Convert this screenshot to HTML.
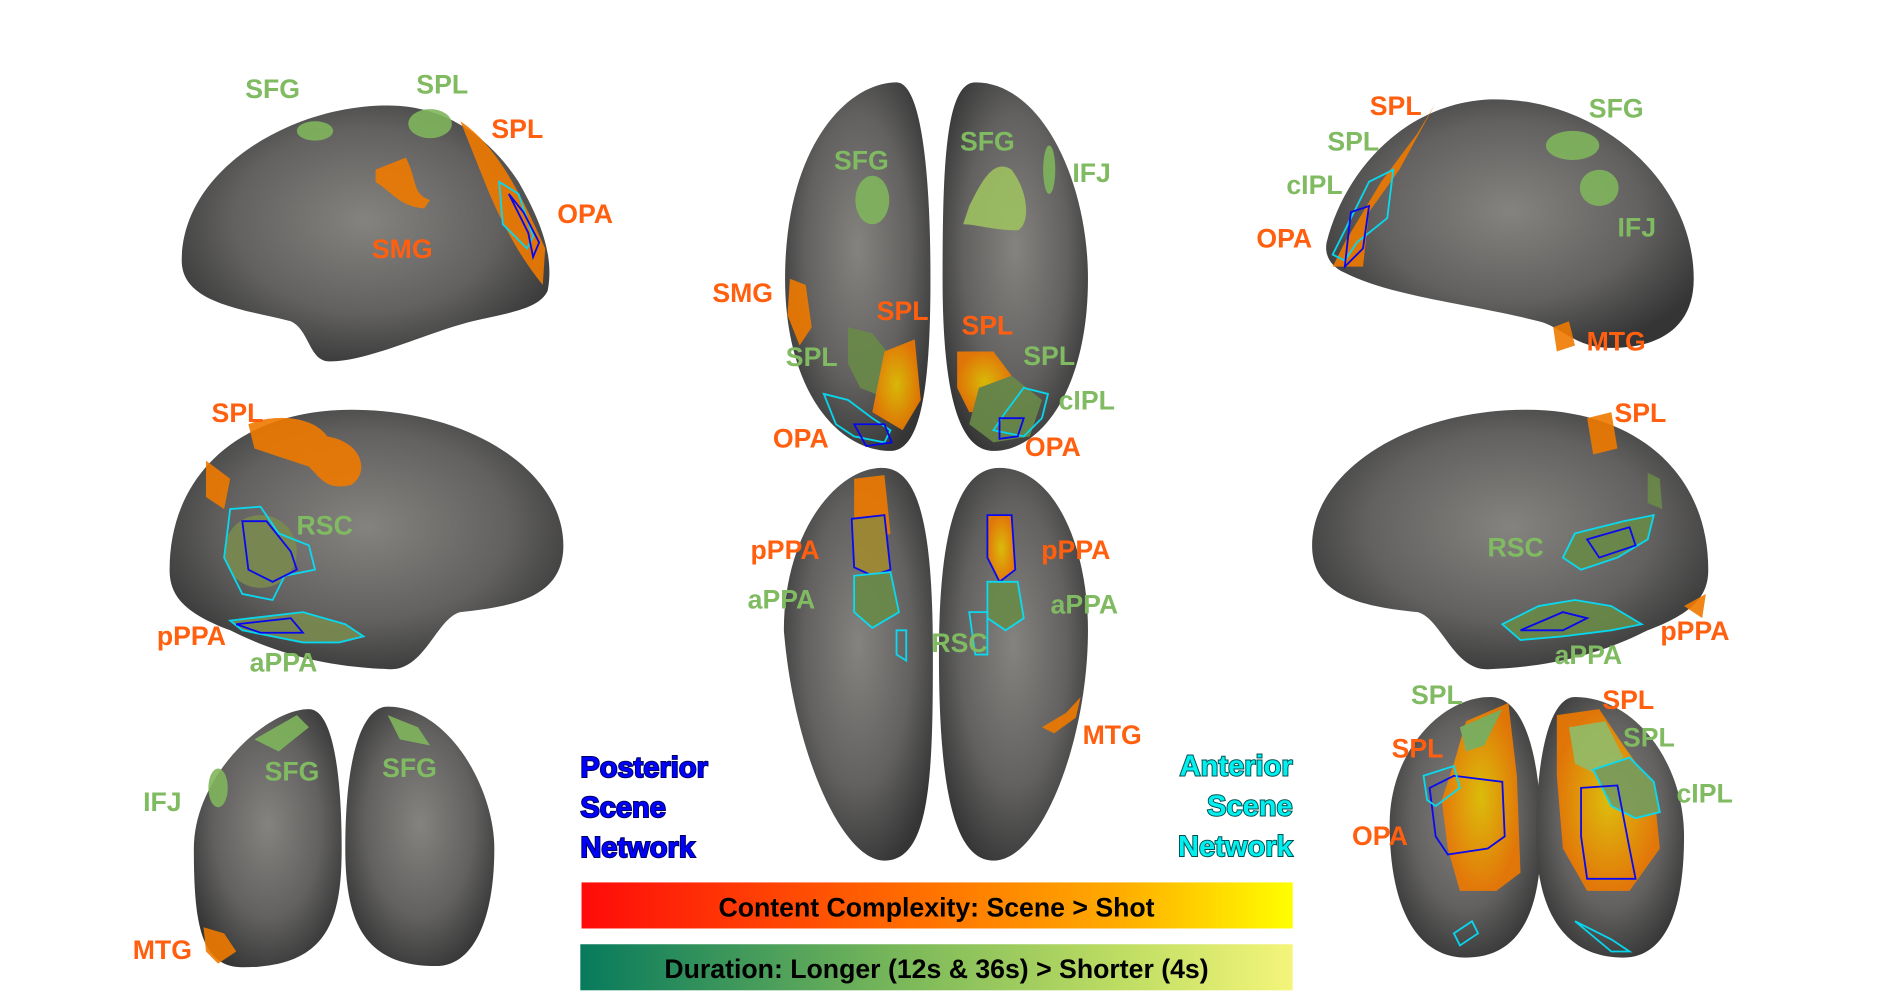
<!DOCTYPE html>
<html><head><meta charset="utf-8"><style>
html,body{margin:0;padding:0;background:#fff;}
svg{display:block;}
text{font-family:"Liberation Sans",sans-serif;font-weight:bold;}
.o{fill:#ff5f0f;}
.g{fill:#80bb62;}
.l{font-size:22px;text-anchor:middle;}
</style></head><body>
<svg width="1890" height="1000" viewBox="0 0 1560 825" preserveAspectRatio="none" xmlns="http://www.w3.org/2000/svg">
<defs>
<radialGradient id="br" cx="50%" cy="45%" r="60%">
<stop offset="0" stop-color="#85837f"/><stop offset="0.6" stop-color="#626160"/><stop offset="1" stop-color="#353535"/>
</radialGradient>
<linearGradient id="b1" x1="0" x2="1"><stop offset="0" stop-color="#ff0a0a"/><stop offset="0.45" stop-color="#ff6a00"/><stop offset="0.75" stop-color="#ffaa00"/><stop offset="1" stop-color="#ffff00"/></linearGradient>
<linearGradient id="b2" x1="0" x2="1"><stop offset="0" stop-color="#077a5c"/><stop offset="0.45" stop-color="#7ab85a"/><stop offset="0.75" stop-color="#bcdc62"/><stop offset="1" stop-color="#f4f57a"/></linearGradient>
<radialGradient id="ob" cx="50%" cy="50%" r="50%"><stop offset="0" stop-color="#e6c400"/><stop offset="1" stop-color="#f07a00"/></radialGradient>
</defs>

<!-- Brains -->
<g fill="url(#br)">
<path d="M150,215 C150,140 240,87 320,87 C370,87 405,115 428,150 C445,180 458,210 452,240 C445,255 420,258 390,265 C350,275 300,300 270,298 C255,296 255,272 240,265 C200,255 150,250 150,215 Z"/>
<path d="M140,470 C140,390 200,338 290,338 C390,338 465,390 465,450 C465,490 430,500 380,505 C360,510 350,555 320,552 C270,550 230,540 190,520 C150,505 140,490 140,470 Z"/>
<path d="M160,700 C160,640 220,585 255,585 C275,585 282,640 282,700 C282,760 270,798 200,798 C165,798 160,760 160,700Z"/>
<path d="M285,700 C285,620 300,583 320,583 C370,583 408,650 408,700 C408,760 390,797 360,797 C300,797 285,760 285,700Z"/>
<path d="M648,230 C648,120 700,68 740,68 C760,68 768,140 768,230 C768,320 760,372 735,372 C690,372 648,320 648,230Z"/>
<path d="M778,230 C778,140 780,68 805,68 C860,68 898,150 898,230 C898,320 860,372 820,372 C790,372 778,320 778,230Z"/>
<path d="M647,520 C647,440 690,386 728,386 C760,386 770,440 770,540 C770,640 768,710 730,710 C695,710 655,620 647,520Z"/>
<path d="M775,540 C775,440 790,386 825,386 C870,386 898,450 898,520 C898,610 860,710 820,710 C785,710 775,640 775,540Z"/>
<path d="M1095,200 C1110,140 1160,85 1230,82 C1320,80 1398,150 1398,230 C1398,270 1370,287 1330,287 C1300,287 1290,270 1270,265 C1210,250 1150,245 1110,225 C1098,220 1093,210 1095,200Z"/>
<path d="M1410,470 C1410,390 1350,338 1260,338 C1160,338 1083,390 1083,450 C1083,490 1120,500 1170,505 C1190,510 1200,555 1230,552 C1280,550 1320,540 1360,520 C1400,505 1410,490 1410,470Z"/>
<path d="M1147,680 C1147,620 1190,575 1230,575 C1260,575 1272,630 1272,690 C1272,760 1250,790 1210,790 C1170,790 1147,750 1147,680Z"/>
<path d="M1268,690 C1268,620 1280,575 1300,575 C1350,575 1390,630 1390,690 C1390,760 1370,790 1340,790 C1290,790 1268,750 1268,690Z"/>
</g>

<!-- Blobs -->
<g opacity="0.9">
<!-- top-left -->
<ellipse cx="260" cy="108" rx="15" ry="8" fill="#7fb55c"/>
<ellipse cx="355" cy="102" rx="18" ry="12" fill="#7fb55c"/>
<path d="M380,100 C410,120 430,160 450,205 L448,235 C440,225 420,200 400,150 Z" fill="#f07a00"/>
<path d="M310,140 L335,130 C345,150 340,160 355,165 L350,172 C330,170 325,160 310,150Z" fill="#f07a00"/>
<path d="M412,150 L428,160 L440,195 L435,205 L415,185 Z" fill="none" stroke="#00e5ff" stroke-width="1.5"/>
<path d="M420,160 L432,175 L445,200 L440,212 L436,192 Z" fill="none" stroke="#0000ff" stroke-width="1.5"/>
<!-- mid-left -->
<path d="M205,350 C230,340 260,345 270,360 C300,365 305,390 290,400 C270,405 265,395 255,385 C240,380 225,375 210,370Z" fill="#f07a00"/>
<path d="M170,380 L190,395 L185,420 L170,410Z" fill="#f07a00"/>
<ellipse cx="215" cy="455" rx="30" ry="30" fill="#7a8a50"/>
<path d="M190,420 L215,418 L230,440 L255,450 L260,470 L235,475 L225,495 L200,490 L185,460Z" fill="none" stroke="#00e5ff" stroke-width="1.5"/>
<path d="M200,430 L220,430 L240,455 L245,470 L225,480 L205,470Z" fill="none" stroke="#0000ff" stroke-width="1.5"/>
<path d="M190,512 L250,505 L285,515 L300,525 L280,530 L250,530 L200,520Z" fill="#7a8a50" stroke="#00e5ff" stroke-width="1.5"/>
<path d="M195,515 L240,510 L250,522 L215,522Z" fill="none" stroke="#0000ff" stroke-width="1.5"/>
<!-- bottom-left -->
<path d="M210,610 L245,590 L255,600 L230,620 Z" fill="#7fb55c"/>
<path d="M320,590 L345,600 L355,615 L330,610Z" fill="#7fb55c"/>
<ellipse cx="180" cy="650" rx="8" ry="16" fill="#7fb55c"/>
<path d="M168,765 L185,770 L195,785 L180,795 L170,785Z" fill="#f07a00"/>
<!-- center top -->
<ellipse cx="720" cy="165" rx="14" ry="20" fill="#7fb55c"/>
<path d="M800,170 C810,150 820,130 835,140 C850,160 850,185 840,190 C820,190 805,185 795,185Z" fill="#9dc060"/>
<ellipse cx="866" cy="140" rx="5" ry="20" fill="#7fb55c"/>
<path d="M652,230 L665,235 L670,270 L660,285 L650,260Z" fill="#f07a00"/>
<path d="M700,270 L720,275 L740,300 L735,330 L710,320 L700,300Z" fill="#6a8a48"/>
<path d="M730,290 L755,280 L760,330 L745,355 L720,340Z" fill="url(#ob)"/>
<path d="M790,290 L820,290 L835,310 L820,340 L800,340 L790,320Z" fill="url(#ob)"/>
<path d="M808,320 L835,310 L860,330 L850,360 L820,365 L800,350Z" fill="#6a8a48"/>
<path d="M680,325 L700,330 L720,345 L735,355 L730,365 L705,360 L690,350Z" fill="none" stroke="#00e5ff" stroke-width="1.5"/>
<path d="M705,350 L730,350 L736,365 L715,368Z" fill="none" stroke="#0000ff" stroke-width="1.5"/>
<path d="M845,320 L865,325 L860,345 L845,360 L820,355 L830,340Z" fill="none" stroke="#00e5ff" stroke-width="1.5"/>
<path d="M825,345 L845,345 L840,360 L825,362Z" fill="none" stroke="#0000ff" stroke-width="1.5"/>
<!-- center bottom -->
<path d="M705,395 L730,392 L735,440 L720,450 L705,440Z" fill="#f07a00"/>
<path d="M703,428 L730,425 L735,470 L720,475 L705,468Z" fill="#a08a30" stroke="#0000ff" stroke-width="1.5"/>
<path d="M705,475 L735,472 L742,505 L720,518 L705,505Z" fill="#6a8a48" stroke="#00e5ff" stroke-width="1.5"/>
<path d="M740,520 L748,520 L748,545 L740,540Z" fill="none" stroke="#00e5ff" stroke-width="1.5"/>
<path d="M815,425 L835,425 L838,470 L825,480 L815,460Z" fill="url(#ob)" stroke="#0000ff" stroke-width="1.5"/>
<path d="M815,480 L840,480 L845,510 L830,520 L815,510Z" fill="#6a8a48" stroke="#00e5ff" stroke-width="1.5"/>
<path d="M800,505 L815,505 L815,540 L805,540Z" fill="none" stroke="#00e5ff" stroke-width="1.5"/>
<path d="M860,600 L880,588 L892,575 L888,592 L870,605Z" fill="#f07a00"/>
<!-- top-right -->
<path d="M1185,85 L1170,110 L1140,150 L1110,200 L1100,220 L1125,220 L1130,175 L1155,140 Z" fill="#f07a00"/>
<path d="M1130,150 L1150,140 L1145,180 L1120,200 L1110,215 L1100,210Z" fill="none" stroke="#00e5ff" stroke-width="1.5"/>
<path d="M1115,175 L1130,170 L1125,205 L1110,220Z" fill="none" stroke="#0000ff" stroke-width="1.5"/>
<ellipse cx="1298" cy="120" rx="22" ry="12" fill="#7fb55c"/>
<ellipse cx="1320" cy="155" rx="16" ry="15" fill="#7fb55c"/>
<path d="M1282,270 L1295,265 L1300,285 L1285,290Z" fill="#f07a00"/>
<!-- mid-right -->
<path d="M1310,345 L1330,340 L1335,370 L1315,375Z" fill="#f07a00"/>
<path d="M1360,390 L1370,395 L1372,420 L1360,415Z" fill="#6a8a48"/>
<path d="M1300,440 L1340,430 L1365,425 L1360,445 L1335,460 L1305,470 L1290,460Z" fill="#6a8a48" stroke="#00e5ff" stroke-width="1.5"/>
<path d="M1310,445 L1345,435 L1350,450 L1320,460Z" fill="none" stroke="#0000ff" stroke-width="1.5"/>
<path d="M1240,515 L1270,500 L1300,495 L1330,500 L1355,515 L1330,520 L1290,525 L1255,528Z" fill="#6a8a48" stroke="#00e5ff" stroke-width="1.5"/>
<path d="M1255,520 L1290,505 L1310,510 L1290,520Z" fill="none" stroke="#0000ff" stroke-width="1.5"/>
<path d="M1390,500 L1408,490 L1405,510Z" fill="#f07a00"/>
<!-- bottom-right -->
<path d="M1210,595 L1245,580 L1252,640 L1255,720 L1235,735 L1205,735 L1195,700 L1190,660 L1200,630Z" fill="url(#ob)"/>
<path d="M1205,600 L1240,585 L1225,615 L1210,620Z" fill="#7fb55c"/>
<path d="M1180,650 L1200,640 L1240,645 L1242,690 L1228,700 L1195,705 L1185,690Z" fill="none" stroke="#0000ff" stroke-width="1.5"/>
<path d="M1175,640 L1200,632 L1205,650 L1185,665 L1178,660Z" fill="none" stroke="#00e5ff" stroke-width="1.5"/>
<path d="M1285,590 L1320,585 L1340,615 L1365,650 L1370,700 L1345,735 L1310,735 L1290,700 L1285,640Z" fill="url(#ob)"/>
<path d="M1295,600 L1325,595 L1340,625 L1320,640 L1300,630Z" fill="#9dc060"/>
<path d="M1315,635 L1345,625 L1365,645 L1370,670 L1350,675 L1330,665Z" fill="#7fa055" stroke="#00e5ff" stroke-width="1.5"/>
<path d="M1305,650 L1335,648 L1345,700 L1350,725 L1310,725 L1305,690Z" fill="none" stroke="#0000ff" stroke-width="1.5"/>
<path d="M1200,770 L1215,760 L1220,770 L1205,780Z" fill="none" stroke="#00e5ff" stroke-width="1.5"/>
<path d="M1300,760 L1330,775 L1345,785 L1330,785Z" fill="none" stroke="#00e5ff" stroke-width="1.5"/>
</g>

<!-- Labels -->
<g class="l">
<text class="g" x="225" y="81">SFG</text>
<text class="g" x="365" y="77">SPL</text>
<text class="o" x="427" y="114">SPL</text>
<text class="o" x="483" y="184">OPA</text>
<text class="o" x="332" y="213">SMG</text>
<text class="o" x="196" y="348">SPL</text>
<text class="g" x="268" y="441">RSC</text>
<text class="o" x="158" y="532">pPPA</text>
<text class="g" x="234" y="554">aPPA</text>
<text class="g" x="134" y="669">IFJ</text>
<text class="g" x="241" y="644">SFG</text>
<text class="g" x="338" y="641">SFG</text>
<text class="o" x="134" y="791">MTG</text>
<text class="g" x="711" y="140">SFG</text>
<text class="g" x="815" y="124">SFG</text>
<text class="g" x="901" y="150">IFJ</text>
<text class="o" x="613" y="249">SMG</text>
<text class="o" x="745" y="264">SPL</text>
<text class="o" x="815" y="276">SPL</text>
<text class="g" x="670" y="302">SPL</text>
<text class="g" x="866" y="301">SPL</text>
<text class="g" x="897" y="338">cIPL</text>
<text class="o" x="661" y="369">OPA</text>
<text class="o" x="869" y="376">OPA</text>
<text class="o" x="648" y="461">pPPA</text>
<text class="o" x="888" y="461">pPPA</text>
<text class="g" x="645" y="502">aPPA</text>
<text class="g" x="895" y="506">aPPA</text>
<text class="g" x="792" y="538">RSC</text>
<text class="o" x="918" y="614">MTG</text>
<text class="o" x="1152" y="95">SPL</text>
<text class="g" x="1334" y="97">SFG</text>
<text class="g" x="1117" y="124">SPL</text>
<text class="g" x="1085" y="160">cIPL</text>
<text class="g" x="1351" y="195">IFJ</text>
<text class="o" x="1060" y="204">OPA</text>
<text class="o" x="1334" y="289">MTG</text>
<text class="o" x="1354" y="348">SPL</text>
<text class="g" x="1251" y="459">RSC</text>
<text class="o" x="1399" y="528">pPPA</text>
<text class="g" x="1311" y="548">aPPA</text>
<text class="g" x="1186" y="581">SPL</text>
<text class="o" x="1344" y="585">SPL</text>
<text class="o" x="1170" y="625">SPL</text>
<text class="g" x="1361" y="616">SPL</text>
<text class="g" x="1407" y="662">cIPL</text>
<text class="o" x="1139" y="697">OPA</text>
</g>

<!-- Network legends -->
<g font-size="24" stroke-width="1.6" paint-order="stroke">
<text x="479" y="641" fill="#0000ff" stroke="#000060">Posterior</text>
<text x="479" y="674" fill="#0000ff" stroke="#000060">Scene</text>
<text x="479" y="707" fill="#0000ff" stroke="#000060">Network</text>
<text x="1067" y="640" fill="#00f0f0" stroke="#005050" text-anchor="end">Anterior</text>
<text x="1067" y="673" fill="#00f0f0" stroke="#005050" text-anchor="end">Scene</text>
<text x="1067" y="706" fill="#00f0f0" stroke="#005050" text-anchor="end">Network</text>
</g>

<!-- Bars -->
<rect x="480" y="728" width="587" height="38" fill="url(#b1)"/>
<text x="773" y="756" font-size="22" text-anchor="middle" fill="#000">Content Complexity: Scene &gt; Shot</text>
<rect x="479" y="779" width="588" height="38" fill="url(#b2)"/>
<text x="773" y="807" font-size="22" text-anchor="middle" fill="#000">Duration: Longer (12s &amp; 36s) &gt; Shorter (4s)</text>
</svg>
</body></html>
